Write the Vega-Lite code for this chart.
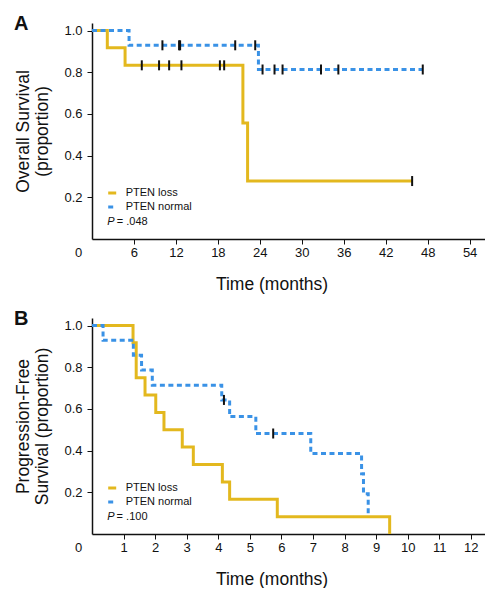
{
  "$schema": "https://vega.github.io/schema/vega-lite/v6.json",
  "background": "white",
  "padding": {"left": 13, "top": 14, "right": 0, "bottom": 0},
  "spacing": 15,
  "resolve": {
    "scale": {"x": "independent", "y": "independent", "color": "independent", "strokeDash": "independent"},
    "legend": {"color": "independent", "strokeDash": "independent"}
  },
  "datasets": {
    "os": [
      {"group": "PTEN loss", "time": 0, "surv": 1.0},
      {"group": "PTEN loss", "time": 2.19, "surv": 0.917},
      {"group": "PTEN loss", "time": 4.73, "surv": 0.833},
      {"group": "PTEN loss", "time": 21.58, "surv": 0.556},
      {"group": "PTEN loss", "time": 22.25, "surv": 0.278},
      {"group": "PTEN loss", "time": 45.78, "surv": 0.278},
      {"group": "PTEN normal", "time": 0, "surv": 1.0},
      {"group": "PTEN normal", "time": 5.3, "surv": 0.929},
      {"group": "PTEN normal", "time": 23.8, "surv": 0.813},
      {"group": "PTEN normal", "time": 47.3, "surv": 0.813}
    ],
    "os_cens": [
      {"group": "PTEN loss", "time": 7.12, "surv": 0.833},
      {"group": "PTEN loss", "time": 9.59, "surv": 0.833},
      {"group": "PTEN loss", "time": 11.03, "surv": 0.833},
      {"group": "PTEN loss", "time": 12.79, "surv": 0.833},
      {"group": "PTEN loss", "time": 18.29, "surv": 0.833},
      {"group": "PTEN loss", "time": 18.9, "surv": 0.833},
      {"group": "PTEN loss", "time": 45.78, "surv": 0.278},
      {"group": "PTEN normal", "time": 10.07, "surv": 0.929},
      {"group": "PTEN normal", "time": 12.45, "surv": 0.929},
      {"group": "PTEN normal", "time": 12.6, "surv": 0.929},
      {"group": "PTEN normal", "time": 20.48, "surv": 0.929},
      {"group": "PTEN normal", "time": 23.34, "surv": 0.929},
      {"group": "PTEN normal", "time": 24.39, "surv": 0.813},
      {"group": "PTEN normal", "time": 26.1, "surv": 0.813},
      {"group": "PTEN normal", "time": 27.25, "surv": 0.813},
      {"group": "PTEN normal", "time": 32.75, "surv": 0.813},
      {"group": "PTEN normal", "time": 35.23, "surv": 0.813},
      {"group": "PTEN normal", "time": 47.3, "surv": 0.813}
    ],
    "os_p": [
      {"label": "P", "time": 2.19, "surv": 0.082},
      {"label": "= .048", "time": 3.55, "surv": 0.082}
    ],
    "pfs": [
      {"group": "PTEN loss", "time": 0, "surv": 1.0},
      {"group": "PTEN loss", "time": 1.3, "surv": 0.917},
      {"group": "PTEN loss", "time": 1.4, "surv": 0.75},
      {"group": "PTEN loss", "time": 1.68, "surv": 0.667},
      {"group": "PTEN loss", "time": 2.02, "surv": 0.583},
      {"group": "PTEN loss", "time": 2.28, "surv": 0.5},
      {"group": "PTEN loss", "time": 2.86, "surv": 0.417},
      {"group": "PTEN loss", "time": 3.21, "surv": 0.333},
      {"group": "PTEN loss", "time": 4.13, "surv": 0.25},
      {"group": "PTEN loss", "time": 4.36, "surv": 0.167},
      {"group": "PTEN loss", "time": 5.87, "surv": 0.083},
      {"group": "PTEN loss", "time": 9.43, "surv": 0.0},
      {"group": "PTEN normal", "time": 0, "surv": 1.0},
      {"group": "PTEN normal", "time": 0.35, "surv": 0.929},
      {"group": "PTEN normal", "time": 1.31, "surv": 0.857},
      {"group": "PTEN normal", "time": 1.57, "surv": 0.786},
      {"group": "PTEN normal", "time": 1.91, "surv": 0.714},
      {"group": "PTEN normal", "time": 4.11, "surv": 0.643},
      {"group": "PTEN normal", "time": 4.36, "surv": 0.563},
      {"group": "PTEN normal", "time": 5.19, "surv": 0.482},
      {"group": "PTEN normal", "time": 6.93, "surv": 0.386},
      {"group": "PTEN normal", "time": 8.54, "surv": 0.289},
      {"group": "PTEN normal", "time": 8.6, "surv": 0.193},
      {"group": "PTEN normal", "time": 8.75, "surv": 0.096}
    ],
    "pfs_cens": [
      {"group": "PTEN normal", "time": 4.18, "surv": 0.643},
      {"group": "PTEN normal", "time": 5.74, "surv": 0.482}
    ],
    "pfs_p": [
      {"label": "P", "time": 0.485, "surv": 0.081},
      {"label": "= .100", "time": 0.78, "surv": 0.081}
    ]
  },
  "config": {
    "view": {"stroke": null},
    "font": "Liberation Sans",
    "axis": {
      "grid": false,
      "domainColor": "#111111",
      "domainWidth": 1.5,
      "tickColor": "#111111",
      "tickSize": 5,
      "tickWidth": 1,
      "labelFont": "Liberation Sans",
      "labelFontSize": 13,
      "labelColor": "#111111",
      "labelOverlap": false,
      "titleFont": "Liberation Sans",
      "titleFontSize": 17.5,
      "titleFontWeight": "normal",
      "titleColor": "#111111"
    },
    "title": {"font": "Liberation Sans", "fontSize": 20, "fontWeight": "bold", "color": "#111111", "anchor": "start", "frame": "bounds", "dy": 15}
  },
  "vconcat": [
    {
      "title": {"text": "A"},
      "width": 393,
      "height": 216,
      "layer": [
        {
          "data": {"name": "os"},
          "mark": {"type": "line", "interpolate": "step-after", "strokeWidth": 3, "strokeCap": "butt", "strokeJoin": "miter"},
          "encoding": {
            "x": {
              "field": "time", "type": "quantitative",
              "scale": {"domain": [0, 56.2], "nice": false, "zero": true},
              "axis": {
                "values": [0, 6, 12, 18, 24, 30, 36, 42, 48, 54],
                "tickCount": 20,
                "format": "d",
                "labelOverlap": false,
                "title": "Time (months)",
                "titleX": 179.5, "titleY": 50.6, "titleBaseline": "alphabetic", "titleAlign": "center",
                "labelFlush": false,
                "labelOffset": {"condition": {"test": "datum.value === 0", "value": -14}, "value": 0},
                "tickOpacity": {"condition": {"test": "datum.value === 0", "value": 0}, "value": 1}
              }
            },
            "y": {
              "field": "surv", "type": "quantitative",
              "scale": {"domain": [0, 1.036], "nice": false, "zero": true},
              "axis": {
                "values": [0.2, 0.4, 0.6, 0.8, 1.0],
                "tickCount": 10,
                "format": ".1f",
                "labelPadding": 5,
                "title": ["Overall Survival", "(proportion)"],
                "titleX": -64, "titleY": 108, "titleBaseline": "alphabetic", "titleAlign": "center", "titleAngle": -90,
                "titleLineHeight": 19.5
              }
            },
            "color": {
              "field": "group", "type": "nominal",
              "scale": {"domain": ["PTEN loss", "PTEN normal"], "range": ["#E3B81E", "#3A92E6"]},
              "legend": {
                "title": null, "orient": "none", "legendX": 14.7, "legendY": 164.5,
                "symbolType": "stroke", "symbolSize": 64, "symbolStrokeWidth": 3,
                "labelFont": "Liberation Sans", "labelFontSize": 11, "labelColor": "#111111",
                "labelOffset": 8, "rowPadding": 1, "padding": 0,
                "encode": {"symbols": {"update": {"strokeDash": {"signal": "datum.value === 'PTEN normal' ? [3, 2] : [1, 0]"}}}}
              }
            },
            "strokeDash": {
              "field": "group", "type": "nominal",
              "scale": {"domain": ["PTEN loss", "PTEN normal"], "range": [[1, 0], [5, 3.5]]},
              "legend": null
            }
          }
        },
        {
          "data": {"name": "os_cens"},
          "mark": {"type": "point", "shape": "M0,-1L0,1", "size": 100, "strokeWidth": 2, "color": "#111111", "filled": false, "opacity": 1},
          "encoding": {
            "x": {"field": "time", "type": "quantitative"},
            "y": {"field": "surv", "type": "quantitative"}
          }
        },
        {
          "data": {"name": "os_p"},
          "transform": [{"filter": "datum.label === 'P'"}],
          "mark": {"type": "text", "align": "left", "baseline": "middle", "fontSize": 11, "fontStyle": "italic", "font": "Liberation Sans", "color": "#111111"},
          "encoding": {
            "x": {"field": "time", "type": "quantitative"},
            "y": {"field": "surv", "type": "quantitative"},
            "text": {"field": "label"}
          }
        },
        {
          "data": {"name": "os_p"},
          "transform": [{"filter": "datum.label !== 'P'"}],
          "mark": {"type": "text", "align": "left", "baseline": "middle", "fontSize": 11, "font": "Liberation Sans", "color": "#111111"},
          "encoding": {
            "x": {"field": "time", "type": "quantitative"},
            "y": {"field": "surv", "type": "quantitative"},
            "text": {"field": "label"}
          }
        }
      ]
    },
    {
      "title": {"text": "B"},
      "width": 393,
      "height": 216,
      "layer": [
        {
          "data": {"name": "pfs"},
          "mark": {"type": "line", "interpolate": "step-after", "strokeWidth": 3, "strokeCap": "butt", "strokeJoin": "miter"},
          "encoding": {
            "x": {
              "field": "time", "type": "quantitative",
              "scale": {"domain": [0, 12.45], "nice": false, "zero": true},
              "axis": {
                "values": [0, 1, 2, 3, 4, 5, 6, 7, 8, 9, 10, 11, 12],
                "tickCount": 20,
                "format": "d",
                "labelOverlap": false,
                "title": "Time (months)",
                "titleX": 179.5, "titleY": 50, "titleBaseline": "alphabetic", "titleAlign": "center",
                "labelFlush": false,
                "labelOffset": {"condition": {"test": "datum.value === 0", "value": -14}, "value": 0},
                "tickOpacity": {"condition": {"test": "datum.value === 0", "value": 0}, "value": 1}
              }
            },
            "y": {
              "field": "surv", "type": "quantitative",
              "scale": {"domain": [0, 1.036], "nice": false, "zero": true},
              "axis": {
                "values": [0.2, 0.4, 0.6, 0.8, 1.0],
                "tickCount": 10,
                "format": ".1f",
                "labelPadding": 5,
                "title": ["Progression-Free", "Survival (proportion)"],
                "titleX": -64, "titleY": 108, "titleBaseline": "alphabetic", "titleAlign": "center", "titleAngle": -90,
                "titleLineHeight": 19.5
              }
            },
            "color": {
              "field": "group", "type": "nominal",
              "scale": {"domain": ["PTEN loss", "PTEN normal"], "range": ["#E3B81E", "#3A92E6"]},
              "legend": {
                "title": null, "orient": "none", "legendX": 14.7, "legendY": 164.5,
                "symbolType": "stroke", "symbolSize": 64, "symbolStrokeWidth": 3,
                "labelFont": "Liberation Sans", "labelFontSize": 11, "labelColor": "#111111",
                "labelOffset": 8, "rowPadding": 1, "padding": 0,
                "encode": {"symbols": {"update": {"strokeDash": {"signal": "datum.value === 'PTEN normal' ? [3, 2] : [1, 0]"}}}}
              }
            },
            "strokeDash": {
              "field": "group", "type": "nominal",
              "scale": {"domain": ["PTEN loss", "PTEN normal"], "range": [[1, 0], [5, 3.5]]},
              "legend": null
            }
          }
        },
        {
          "data": {"name": "pfs_cens"},
          "mark": {"type": "point", "shape": "M0,-1L0,1", "size": 100, "strokeWidth": 2, "color": "#111111", "filled": false, "opacity": 1},
          "encoding": {
            "x": {"field": "time", "type": "quantitative"},
            "y": {"field": "surv", "type": "quantitative"}
          }
        },
        {
          "data": {"name": "pfs_p"},
          "transform": [{"filter": "datum.label === 'P'"}],
          "mark": {"type": "text", "align": "left", "baseline": "middle", "fontSize": 11, "fontStyle": "italic", "font": "Liberation Sans", "color": "#111111"},
          "encoding": {
            "x": {"field": "time", "type": "quantitative"},
            "y": {"field": "surv", "type": "quantitative"},
            "text": {"field": "label"}
          }
        },
        {
          "data": {"name": "pfs_p"},
          "transform": [{"filter": "datum.label !== 'P'"}],
          "mark": {"type": "text", "align": "left", "baseline": "middle", "fontSize": 11, "font": "Liberation Sans", "color": "#111111"},
          "encoding": {
            "x": {"field": "time", "type": "quantitative"},
            "y": {"field": "surv", "type": "quantitative"},
            "text": {"field": "label"}
          }
        }
      ]
    }
  ]
}
